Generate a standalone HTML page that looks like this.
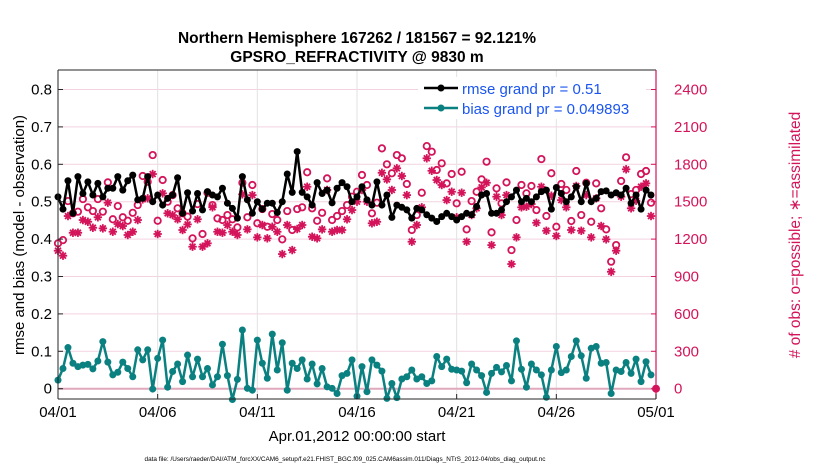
<!DOCTYPE html>
<html><head><meta charset="utf-8"><style>
body{margin:0;background:#fff;}
svg{display:block;font-family:"Liberation Sans",Arial,sans-serif;}
</style></head><body>
<svg id="chart" width="830" height="470" viewBox="0 0 830 470" xmlns="http://www.w3.org/2000/svg">
<text x="357" y="43" text-anchor="middle" font-size="15.5" font-weight="bold">Northern Hemisphere 167262 / 181567 = 92.121%</text>
<text x="357" y="62" text-anchor="middle" font-size="15.5" font-weight="bold">GPSRO_REFRACTIVITY @ 9830 m</text>
<g id="grid"></g>
<g id="marks"></g>
<g id="axes"></g>
<text transform="translate(24,235) rotate(-90)" text-anchor="middle" font-size="15">rmse and bias (model - observation)</text>
<text transform="translate(800,235) rotate(-90)" text-anchor="middle" font-size="15.5" fill="#d4145a"># of obs: o=possible; ∗=assimilated</text>
<text x="357" y="441" text-anchor="middle" font-size="15">Apr.01,2012 00:00:00 start</text>
<text x="345" y="461" text-anchor="middle" font-size="6.4">data file: /Users/raeder/DAI/ATM_forcXX/CAM6_setup/f.e21.FHIST_BGC.f09_025.CAM6assim.011/Diags_NTrS_2012-04/obs_diag_output.nc</text>
<g>
<rect x="418" y="77" width="228" height="42" fill="#fff" stroke="none"/>
<line x1="424" y1="88" x2="458" y2="88" stroke="#000" stroke-width="2.5"/><circle cx="441" cy="88" r="3.5" fill="#000"/>
<text x="462" y="94" font-size="15" fill="#1a55f0">rmse grand pr = 0.51</text>
<line x1="424" y1="108" x2="458" y2="108" stroke="#0a8080" stroke-width="2.5"/><circle cx="441" cy="108" r="3.5" fill="#0a8080"/>
<text x="462" y="114" font-size="15" fill="#1a55f0">bias grand pr = 0.049893</text>
</g>
</svg>
<script>
const rmse=[.513,.480,.556,.469,.567,.522,.553,.518,.549,.513,.536,.536,.567,.531,.556,.571,.505,.509,.567,.5,.518,.491,.509,.518,.564,.469,.524,.475,.522,.478,.527,
.518,.513,.536,.496,.482,.456,.567,.505,.469,.5,.48,.496,.496,.471,.5,.574,.525,.634,.525,.513,.491,.551,.522,.531,.497,.536,.551,.54,.5,.513,
.540,.505,.491,.553,.491,.518,.458,.491,.485,.478,.456,.482,.478,.465,.456,.447,.460,.469,.460,.451,.460,.469,.465,.487,.518,.522,.469,.469,.478,.5,
.513,.531,.5,.509,.5,.513,.527,.531,.48,.538,.522,.5,.513,.54,.5,.549,.5,.509,.527,.529,.518,.524,.518,.536,.496,.518,.48,.531,.518];
const bias=[.023,.054,.11,.068,.059,.063,.065,.053,.074,.126,.071,.037,.044,.071,.054,.032,.104,.077,.104,-.001,.081,.13,.004,.046,.066,.019,.09,.032,.079,.032,.054,.01,.032,.119,.035,-.029,.025,.157,.001,-.004,.13,.068,.028,.146,.05,.123,-.004,.068,.054,.077,.026,.066,.013,.054,.005,.001,-.013,.035,.041,.077,
-.02,.059,-.008,.077,.063,.047,-.026,.014,-.024,.026,.032,.05,.026,.032,.014,.021,.086,.059,.079,.052,.05,.047,.016,.066,.05,.035,-.01,.041,.057,.045,.062,.021,.128,.052,.004,.066,.05,.037,-.023,.05,.113,.043,.05,.086,.128,.088,.028,.108,.113,.068,.07,-.013,.05,.046,.07,.041,.079,.019,.072,.037];
const possible=[1166,1192,1505,1407,1420,1521,1455,1425,1521,1420,1655,1359,1465,1375,1347,1411,1473,1706,1660,1874,1347,1674,1500,1553,1447,1407,1380,1206,1481,1241,1572,
1473,1366,1353,1393,1359,1294,1652,1375,1634,1327,1441,1299,1401,1353,1198,1425,1273,1441,1455,1736,1447,1347,1411,1687,1353,1385,1425,1473,1540,1580,
1714,1634,1407,1492,1928,1800,1728,1874,1848,1642,1273,1393,1572,1946,1901,1754,1808,1647,1722,1487,1740,1278,1505,1580,1679,1821,1254,1607,1487,1655,
1112,1353,1634,1567,1626,1433,1842,1385,1728,1299,1642,1594,1345,1746,1393,1652,1339,1647,1447,1278,1019,1152,1666,1856,1561,1594,1722,1746,1492];
const assimilated=[1107,1067,1385,1251,1251,1353,1339,1291,1375,1286,1492,1259,1321,1305,1233,1259,1353,1519,1527,1722,1241,1567,1407,1393,1359,1273,1318,1139,1359,1139,1166,
1455,1259,1251,1313,1259,1233,1559,1278,1553,1214,1313,1206,1299,1259,1080,1313,1112,1281,1313,1620,1219,1206,1278,1594,1259,1273,1273,1359,1433,1500,
1594,1500,1327,1339,1732,1679,1594,1768,1706,1553,1179,1313,1455,1848,1748,1674,1634,1513,1580,1375,1572,1179,1393,1447,1615,1652,1152,1540,1393,1553,
1000,1214,1455,1460,1481,1331,1620,1267,1548,1225,1513,1455,1273,1626,1267,1553,1214,1527,1305,1198,938,1107,1540,1760,1447,1508,1620,1647,1385];
const yTicks=[0,0.1,0.2,0.3,0.4,0.5,0.6,0.7,0.8];
const y2Ticks=[0,300,600,900,1200,1500,1800,2100,2400];
const xTickDays=[0,5,10,15,20,25,30];
const xTickLabels=["04/01","04/06","04/11","04/16","04/21","04/26","05/01"];

const NS="http://www.w3.org/2000/svg";
const X0=58,X1=656,YT=70,YB=399;
const xDay=d=>X0+d*(X1-X0)/30;
const xIdx=i=>xDay(i/4);
const yL=v=>388.7-v*374;
const yR=c=>yL(c/3000);
function mk(tag,attrs,parent){const e=document.createElementNS(NS,tag);for(const k in attrs)e.setAttribute(k,attrs[k]);parent.appendChild(e);return e;}
const grid=document.getElementById('grid'),marks=document.getElementById('marks'),axes=document.getElementById('axes');
mk('rect',{x:X0,y:YT,width:X1-X0,height:YB-YT,fill:'#fff'},grid);
yTicks.forEach(v=>{mk('line',{x1:X0,x2:X1,y1:yL(v),y2:yL(v),stroke:'#f3d3e0','stroke-width':1},grid);});
xTickDays.forEach(d=>{mk('line',{x1:xDay(d),x2:xDay(d),y1:YT,y2:YB,stroke:'#e2e2e2','stroke-width':1},grid);});
mk('line',{x1:X0,x2:X1,y1:yL(0),y2:yL(0),stroke:'#e0a8bc','stroke-width':2},grid);
possible.forEach((c,i)=>{const e=mk('circle',{cx:xIdx(i),cy:yR(c),r:3.2,fill:'none',stroke:'#d4145a','stroke-width':1.8},marks);

});
assimilated.forEach((c,i)=>{const x=xIdx(i),y=yR(c),s=4.2;const g=mk('g',{stroke:'#d4145a','stroke-width':1.8},marks);


mk('line',{x1:x-s,x2:x+s,y1:y,y2:y},g);mk('line',{x1:x,x2:x,y1:y-s,y2:y+s},g);
mk('line',{x1:x-s*.7,x2:x+s*.7,y1:y-s*.7,y2:y+s*.7},g);mk('line',{x1:x-s*.7,x2:x+s*.7,y1:y+s*.7,y2:y-s*.7},g);});
function series(arr,color,name){
const p=mk('polyline',{points:arr.map((v,i)=>xIdx(i)+','+yL(v)).join(' '),fill:'none',stroke:color,'stroke-width':2.5,'stroke-linejoin':'round'},marks);


arr.forEach((v,i)=>{const c=mk('circle',{cx:xIdx(i),cy:yL(v),r:3.5,fill:color},marks);

});}
series(bias,'#0a8080','bias');
series(rmse,'#000','rmse');
const z=mk('circle',{cx:X1,cy:yL(0),r:4,fill:'#d4145a'},marks);


mk('line',{x1:X0,x2:X0,y1:YT,y2:YB,stroke:'#262626','stroke-width':1},axes);
mk('line',{x1:X0,x2:X1,y1:YB,y2:YB,stroke:'#262626','stroke-width':1},axes);
mk('line',{x1:X0,x2:X1,y1:YT,y2:YT,stroke:'#262626','stroke-width':1},axes);
mk('line',{x1:X1,x2:X1,y1:YT,y2:YB,stroke:'#d4145a','stroke-width':1.2},axes);
yTicks.forEach(v=>{const t=mk('text',{x:X0-6,y:yL(v)+5,'text-anchor':'end','font-size':15},axes);t.textContent=(v===0?'0':v.toFixed(1));


mk('line',{x1:X0,x2:X0+5,y1:yL(v),y2:yL(v),stroke:'#262626'},axes);});
y2Ticks.forEach(c=>{const t=mk('text',{x:X1+18,y:yR(c)+5,'font-size':15,fill:'#d4145a'},axes);t.textContent=c;


mk('line',{x1:X1-5,x2:X1,y1:yR(c),y2:yR(c),stroke:'#d4145a'},axes);});
xTickDays.forEach((d,k)=>{const t=mk('text',{x:xDay(d),y:YB+18,'text-anchor':'middle','font-size':15},axes);t.textContent=xTickLabels[k];


mk('line',{x1:xDay(d),x2:xDay(d),y1:YB,y2:YB-5,stroke:'#262626'},axes);});
</script>
</body></html>
